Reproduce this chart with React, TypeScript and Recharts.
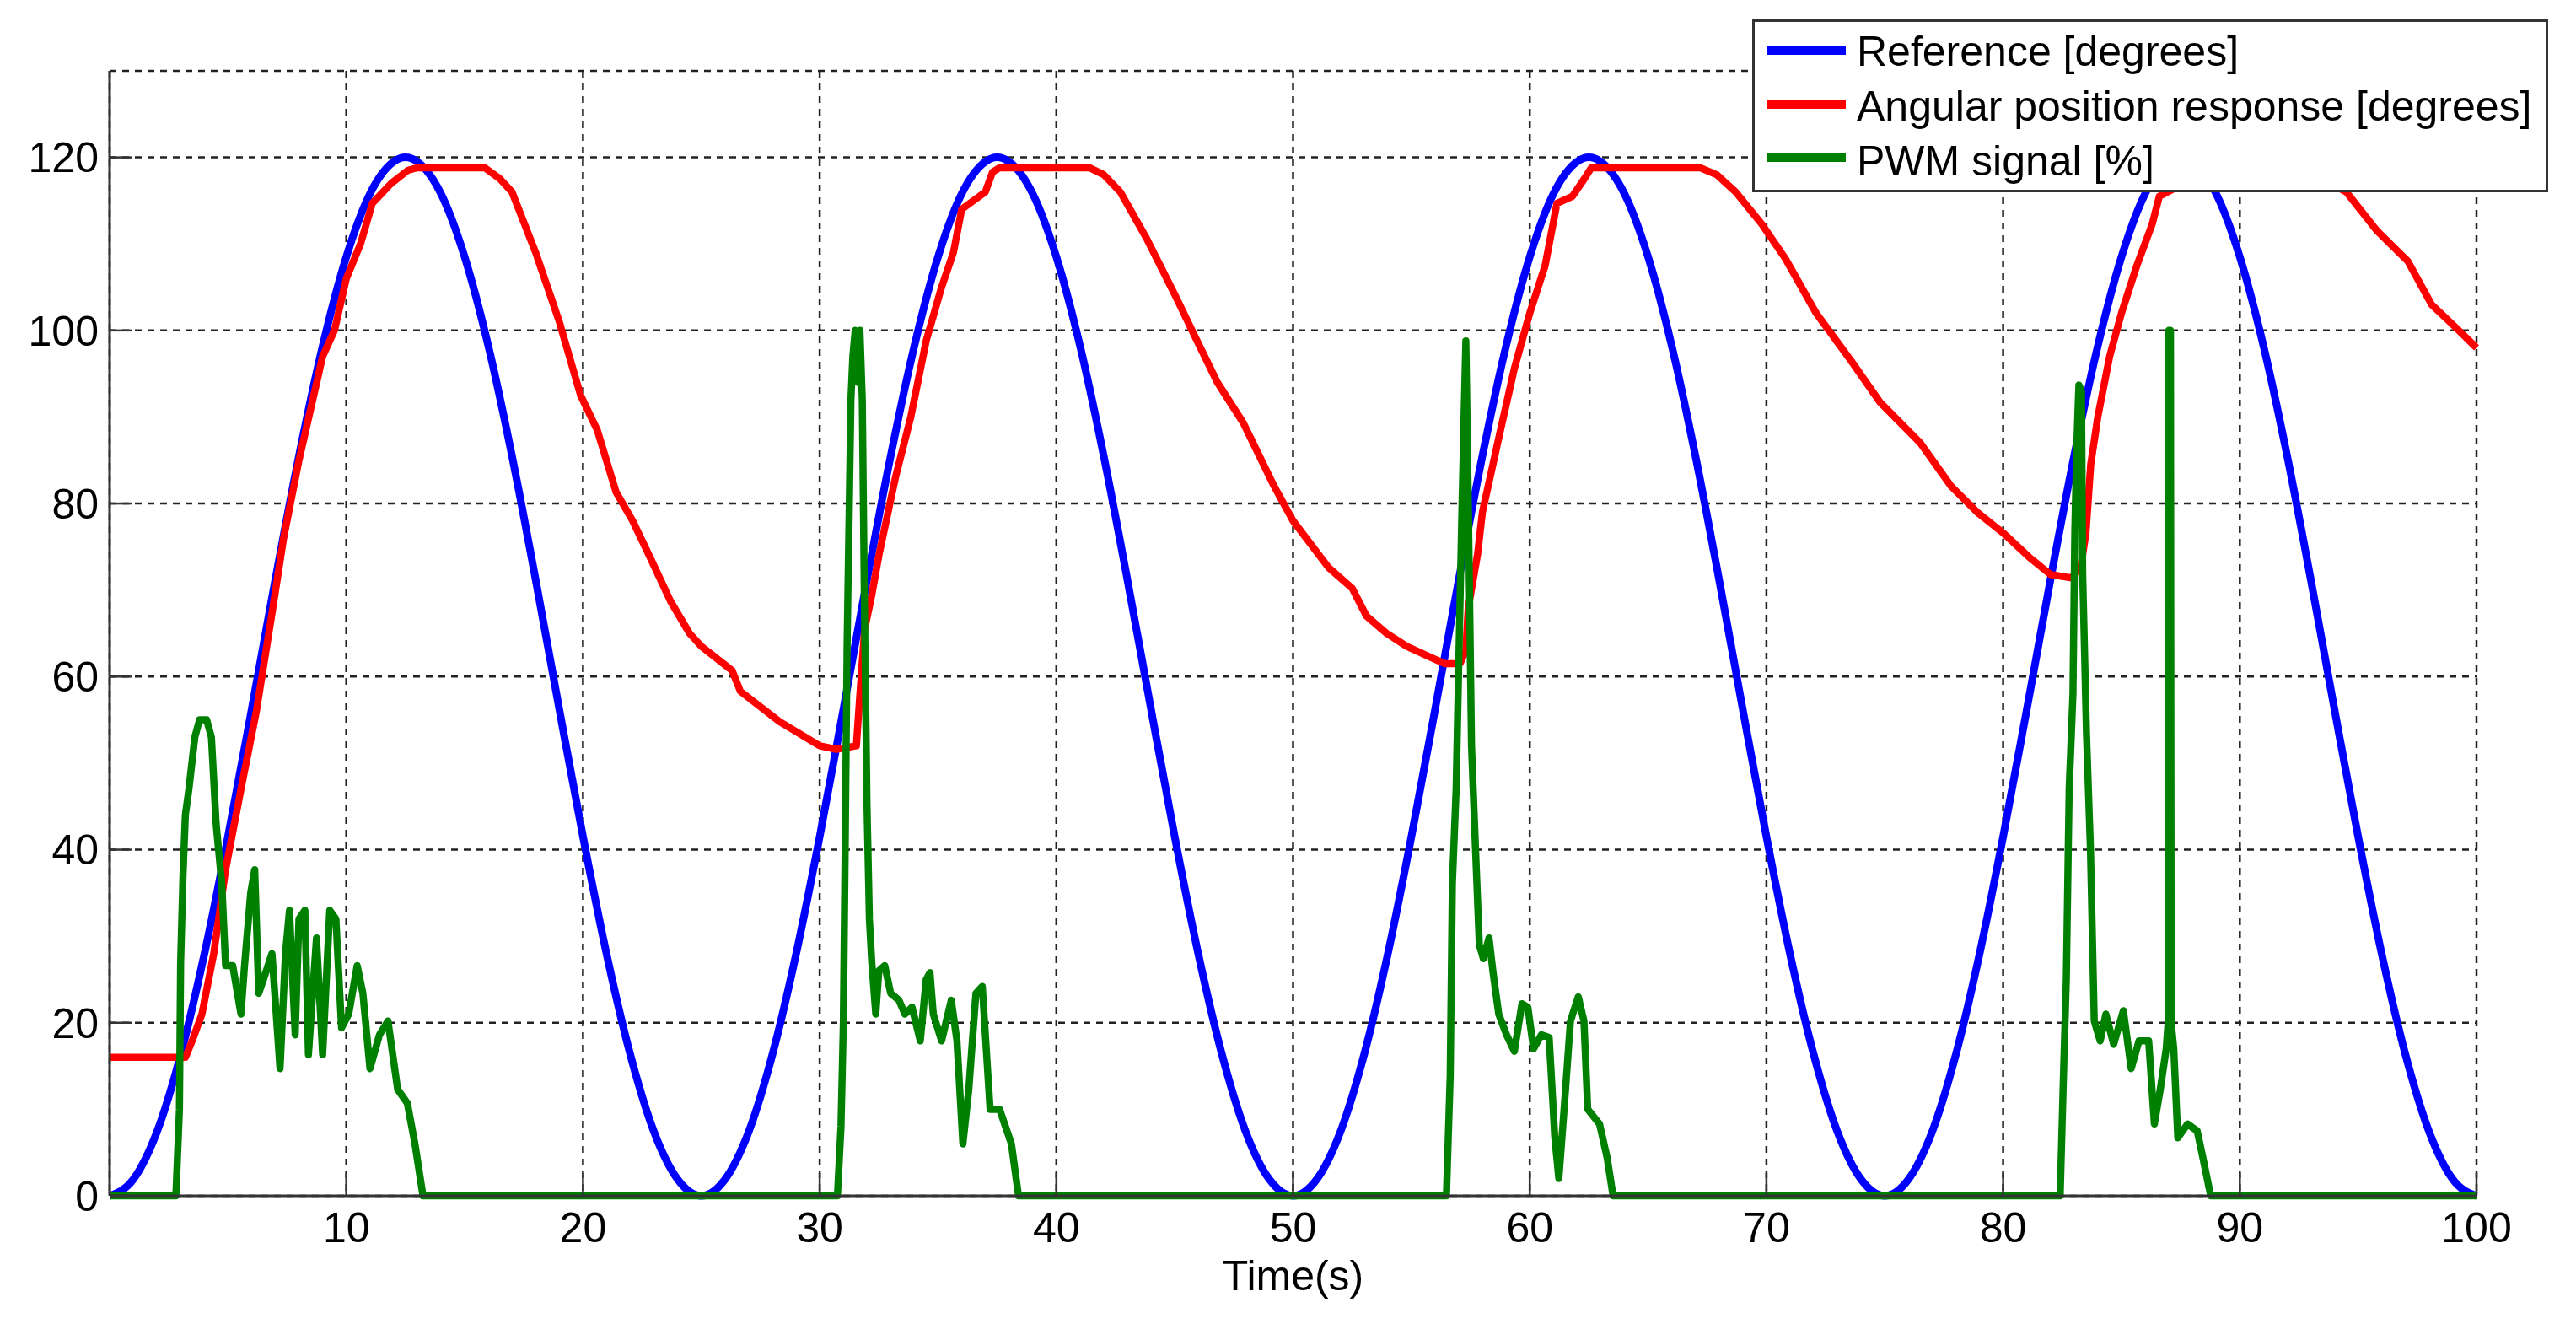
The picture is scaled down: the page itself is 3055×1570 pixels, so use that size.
import React from 'react';
import { LineChart, Line, XAxis, YAxis, CartesianGrid, Legend } from 'recharts';

const xTicks = [10, 20, 30, 40, 50, 60, 70, 80, 90, 100];
const yTicks = [0, 20, 40, 60, 80, 100, 120];

const refTime = [
  0, 1, 2, 3, 4, 5, 6, 7, 8, 9, 10, 11, 12, 12.5, 13, 14, 15, 16, 17, 18, 19, 20, 21, 22, 23, 24,
  25, 26, 27, 28, 29, 30, 31, 32, 33, 34, 35, 36, 37, 37.5, 38, 39, 40, 41, 42, 43, 44, 45, 46, 47, 48, 49,
  50, 51, 52, 53, 54, 55, 56, 57, 58, 59, 60, 61, 62, 62.5, 63, 64, 65, 66, 67, 68, 69, 70, 71, 72, 73, 74,
  75, 76, 77, 78, 79, 80, 81, 82, 83, 84, 85, 86, 87, 87.5, 88, 89, 90, 91, 92, 93, 94, 95, 96, 97, 98, 99,
  100,
];
const refValue = [
  0, 1.9, 7.4, 16.3, 27.9, 41.5, 56.2, 71.2, 85.5, 98.2, 108.5, 115.8, 119.5, 120, 119.5, 115.8, 108.5, 98.2, 85.5, 71.2, 56.2, 41.5, 27.9, 16.3, 7.4, 1.9,
  0, 1.9, 7.4, 16.3, 27.9, 41.5, 56.2, 71.2, 85.5, 98.2, 108.5, 115.8, 119.5, 120, 119.5, 115.8, 108.5, 98.2, 85.5, 71.2, 56.2, 41.5, 27.9, 16.3, 7.4, 1.9,
  0, 1.9, 7.4, 16.3, 27.9, 41.5, 56.2, 71.2, 85.5, 98.2, 108.5, 115.8, 119.5, 120, 119.5, 115.8, 108.5, 98.2, 85.5, 71.2, 56.2, 41.5, 27.9, 16.3, 7.4, 1.9,
  0, 1.9, 7.4, 16.3, 27.9, 41.5, 56.2, 71.2, 85.5, 98.2, 108.5, 115.8, 119.5, 120, 119.5, 115.8, 108.5, 98.2, 85.5, 71.2, 56.2, 41.5, 27.9, 16.3, 7.4, 1.9,
  0,
];

const posTime = [
  0, 3.2, 3.5, 3.9, 4.4, 4.9, 5.55, 6.2, 6.9, 7.35, 8.0, 8.5, 9.0, 9.5, 10.0, 10.6, 11.1, 11.9, 12.6, 13.0,
  15.85, 16.5, 17.0, 18.0, 19.0, 19.9, 20.6, 21.4, 22.1, 22.9, 23.7, 24.5, 25.0, 26.3, 26.65, 28.3, 30.0, 30.7, 31.55,
  31.7, 31.9, 32.2, 32.5, 33.2, 33.85, 34.5, 35.15, 35.65, 36.0, 36.5, 37.0, 37.3, 37.6,
  41.4, 42.0, 42.7, 43.8, 45.1, 45.8, 46.8, 47.9, 49.2, 50.0, 51.5, 52.5, 53.1, 53.95, 54.8, 55.75, 56.4, 57.05,
  57.3, 57.4, 57.8, 58.0, 58.7, 59.35, 60.0, 60.65, 61.15, 61.8, 62.3, 62.6,
  67.2, 67.9, 68.7, 69.8, 70.8, 72.1, 73.6, 74.8, 76.5, 77.8, 78.9, 80.0, 81.1, 82.0, 82.9,
  83.3, 83.5, 83.7, 84.0, 84.5, 85.0, 85.65, 86.3, 86.6, 87.3, 88.0,
  93.5, 94.5, 95.8, 97.1, 98.1, 99.1, 100,
];
const posValue = [
  16, 16, 18, 21, 28, 37.7, 47, 56, 68, 76, 85, 91, 97, 100, 106, 110, 114.7, 117, 118.5, 118.8,
  118.8, 117.5, 116, 109, 101, 92.5, 88.5, 81.3, 78, 73.4, 68.7, 65, 63.5, 60.7, 58.3, 54.8, 52, 51.6, 52,
  58, 65.5, 69.4, 74, 83, 90, 98.8, 105, 109, 114, 115, 116, 118.3, 118.8,
  118.8, 118, 116, 110.7, 103.6, 99.6, 94, 89.3, 82, 78, 72.6, 70.2, 67, 65, 63.5, 62.3, 61.5, 61.5,
  63, 67.9, 74.2, 79, 87.7, 95.6, 102, 107.5, 114.7, 115.5, 117.5, 118.8,
  118.8, 118, 116, 112.3, 108.3, 102, 96.4, 91.7, 87, 82, 79, 76.6, 73.8, 71.8, 71.4,
  73, 76.6, 84.5, 90, 97, 102, 107.5, 112.3, 115.5, 116.5, 117.5,
  117.5, 116, 111.5, 108, 103, 100.4, 98,
];

const pwmTime = [
  0, 2.8, 2.95, 3.0, 3.1, 3.2, 3.35, 3.6, 3.8, 4.1, 4.3, 4.5, 4.74, 4.9, 5.2, 5.55, 5.7, 5.96, 6.13, 6.3, 6.5, 6.86,
  7.2, 7.43, 7.6, 7.84, 8.0, 8.25, 8.4, 8.74, 9.0, 9.3, 9.56, 9.8, 10.1, 10.46, 10.7, 11.0, 11.4, 11.76, 12.17,
  12.58, 12.9, 13.24,
  30.75, 30.9, 31.0, 31.08, 31.16, 31.24, 31.32, 31.4, 31.5, 31.6, 31.7, 31.8, 31.9, 32.0, 32.1, 32.2, 32.37,
  32.5, 32.75, 33.0, 33.35, 33.6, 33.9, 34.25, 34.5, 34.66, 34.8, 35.15, 35.56, 35.8, 36.05, 36.3, 36.6, 36.87,
  37.2, 37.6, 38.1, 38.4,
  56.48, 56.64, 56.73, 56.89, 57.05, 57.14, 57.3, 57.41, 57.54, 57.71, 57.87, 58.04, 58.28, 58.45, 58.69, 59.02,
  59.35, 59.67, 59.92, 60.16, 60.49, 60.82, 61.06, 61.23, 61.47, 61.72, 62.05, 62.29, 62.45, 62.95, 63.27, 63.52,
  82.41, 82.54, 82.67, 82.79, 82.95, 83.03, 83.11, 83.2, 83.31, 83.36, 83.52, 83.69, 83.85, 84.1, 84.34, 84.67,
  85.08, 85.41, 85.74, 86.15, 86.39, 86.64, 86.89, 86.97, 87.0, 87.07, 87.1, 87.21, 87.38, 87.79, 88.2, 88.44,
  88.77, 100,
];
const pwmValue = [
  0, 0, 10, 27, 37, 44, 47, 53, 55, 55, 53, 43, 36, 26.6, 26.6, 21, 26.6, 35, 37.7, 23.4, 25, 28,
  14.7, 28, 33, 18.6, 32, 33, 16.3, 29.8, 16.3, 33, 32, 19.4, 21, 26.6, 23.4, 14.7, 18.6, 20.2, 12.3,
  10.7, 6, 0,
  0, 8, 20, 41, 64, 78, 92, 97, 100, 94, 100, 92, 66, 45, 32, 27, 21,
  26, 26.6, 23.4, 22.6, 21, 21.8, 17.9, 25, 25.8, 21, 17.9, 22.6, 17.9, 6, 12.3, 23.4, 24.2,
  10, 10, 6, 0,
  0, 13.9, 36, 47, 68, 80, 98.8, 79, 52, 40, 29, 27.4, 29.8, 25.8, 21, 18.6,
  16.7, 22.2, 21.8, 17, 18.6, 18.3, 6.7, 2, 10.7, 20.2, 23, 20.2, 10, 8.3, 4.4, 0,
  0, 13, 25, 47, 58, 77, 86.5, 93.7, 93, 72, 53.6, 40, 20.2, 17.9, 21, 17.5,
  21.4, 14.7, 17.9, 17.9, 8.3, 12.3, 17, 20, 100, 100, 20, 17, 6.7, 8.3, 7.5, 4.4,
  0, 0,
];

const seriesNames = ['Reference [degrees]', 'Angular position response [degrees]', 'PWM signal [%]'];
const seriesColors = ['#0000FF', '#FF0000', '#008000'];

const toRows = (ts: number[], vs: number[]) => ts.map((t, i) => ({ t, v: vs[i] }));
const refData = toRows(refTime, refValue);
const posData = toRows(posTime, posValue);
const pwmData = toRows(pwmTime, pwmValue);

const FONT = '"Liberation Sans", Arial, Helvetica, sans-serif';
const tickStyle = { fill: '#000', fontSize: 50, fontFamily: FONT };
const axisLineStyle = { stroke: '#333', strokeWidth: 3 };
const tickLineStyle = { stroke: '#333', strokeWidth: 2.5 };

const textCenters = [34, 99, 164];
const lineCenters = [34, 98, 161];

const LegendBox = () => (
  <div
    style={{
      position: 'relative',
      width: 944,
      height: 205,
      boxSizing: 'border-box',
      border: '3px solid #333',
      background: '#fff',
      fontFamily: FONT,
    }}
  >
    {seriesNames.map((name, i) => (
      <React.Fragment key={name}>
        <div
          style={{
            position: 'absolute',
            left: 15,
            top: lineCenters[i] - 5,
            width: 93,
            height: 10,
            background: seriesColors[i],
          }}
        />
        <div
          style={{
            position: 'absolute',
            left: 121,
            top: textCenters[i] - 24.4,
            fontSize: 50,
            lineHeight: '50px',
            color: '#000',
            whiteSpace: 'nowrap',
          }}
        >
          {name}
        </div>
      </React.Fragment>
    ))}
  </div>
);

export default function App() {
  return (
    <div style={{ position: 'absolute', left: 0, top: 0, width: 3055, height: 1570, background: '#fff' }}>
      <LineChart width={3055} height={1570} margin={{ top: 84, right: 118, bottom: 40, left: 30 }}>
        <CartesianGrid stroke="#222" strokeWidth={2.5} strokeDasharray="8 7" />
        <XAxis
          dataKey="t"
          type="number"
          domain={[0, 100]}
          ticks={xTicks}
          height={112}
          tickSize={-27}
          tickMargin={46}
          tick={tickStyle}
          tickLine={tickLineStyle}
          axisLine={axisLineStyle}
          label={{ value: 'Time(s)', position: 'insideBottom', offset: 0, fill: '#000', fontSize: 50, fontFamily: FONT }}
        />
        <XAxis
          xAxisId="top"
          orientation="top"
          type="number"
          domain={[0, 100]}
          ticks={xTicks}
          height={0}
          tickSize={-27}
          tick={false}
          tickLine={tickLineStyle}
          axisLine={axisLineStyle}
        />
        <YAxis
          type="number"
          domain={[0, 130]}
          ticks={yTicks}
          width={100}
          tickSize={-27}
          tickMargin={40}
          tick={tickStyle}
          tickLine={tickLineStyle}
          axisLine={axisLineStyle}
        />
        <YAxis
          yAxisId="right"
          orientation="right"
          type="number"
          domain={[0, 130]}
          ticks={yTicks}
          width={0}
          tickSize={-27}
          tick={false}
          tickLine={tickLineStyle}
          axisLine={axisLineStyle}
        />
        <Line
          data={refData}
          dataKey="v"
          name={seriesNames[0]}
          type="monotone"
          stroke={seriesColors[0]}
          strokeWidth={9}
          dot={false}
          activeDot={false}
          isAnimationActive={false}
        />
        <Line
          data={posData}
          dataKey="v"
          name={seriesNames[1]}
          type="linear"
          stroke={seriesColors[1]}
          strokeWidth={8.5}
          strokeLinejoin="round"
          dot={false}
          activeDot={false}
          isAnimationActive={false}
        />
        <Line
          data={pwmData}
          dataKey="v"
          name={seriesNames[2]}
          type="linear"
          stroke={seriesColors[2]}
          strokeWidth={8.5}
          strokeLinejoin="round"
          dot={false}
          activeDot={false}
          isAnimationActive={false}
        />
        <Legend
          layout="horizontal"
          verticalAlign="middle"
          align="center"
          content={() => <LegendBox />}
          wrapperStyle={{ position: 'absolute', left: 2078, top: 23, width: 944, height: 205 }}
        />
      </LineChart>
    </div>
  );
}
